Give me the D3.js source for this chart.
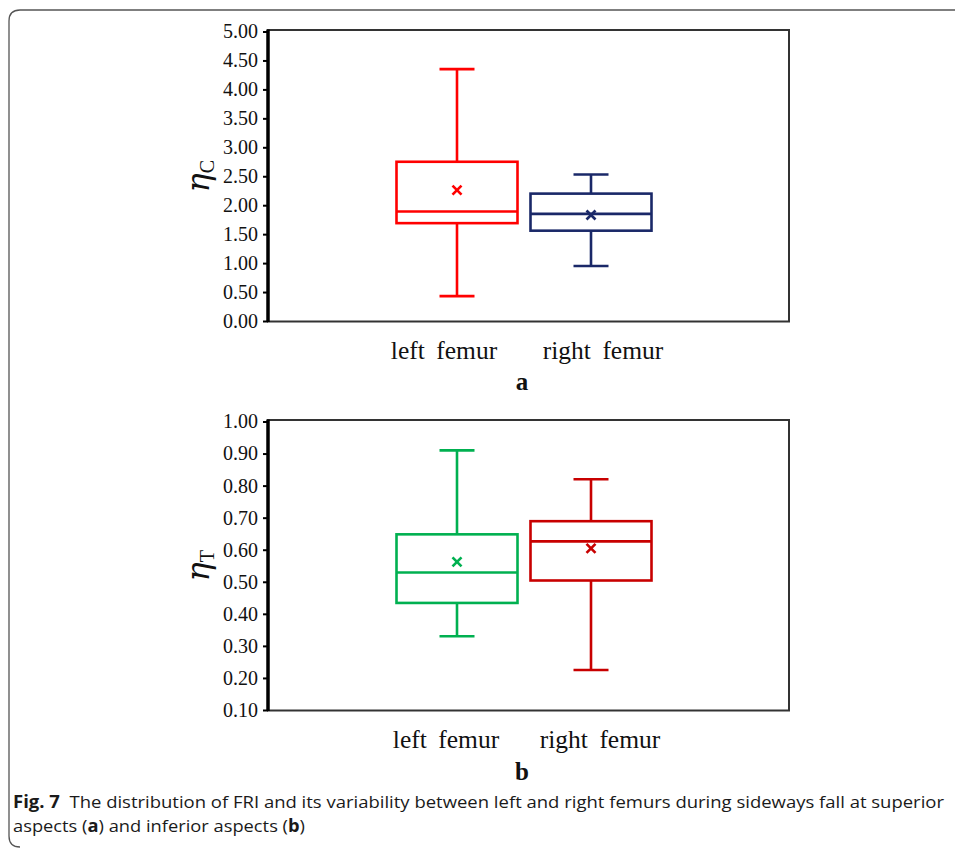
<!DOCTYPE html>
<html><head><meta charset="utf-8">
<script src="https://cdn.jsdelivr.net/npm/d3@7"></script>
<style>
html,body{margin:0;padding:0;background:#fff;}
svg{display:block;}
</style></head>
<body>
<script>
// ---- data ----
const categories = ["left femur", "right femur"];
// Panel a (eta_C)
const aMin    = [0.43, 0.95];
const aQ1     = [1.69, 1.56];
const aMedian = [1.89, 1.85];
const aQ3     = [2.75, 2.20];
const aMax    = [4.35, 2.53];
const aMean   = [2.26, 1.83];
const aTicks  = [0, 0.5, 1, 1.5, 2, 2.5, 3, 3.5, 4, 4.5, 5];
// Panel b (eta_T)
const bMin    = [0.33, 0.225];
const bQ1     = [0.434, 0.504];
const bMedian = [0.529, 0.626];
const bQ3     = [0.648, 0.689];
const bMax    = [0.91, 0.82];
const bMean   = [0.562, 0.604];
const bTicks  = [0.1, 0.2, 0.3, 0.4, 0.5, 0.6, 0.7, 0.8, 0.9, 1.0];

const aColors = ["#ff0000", "#1a2868"];
const bColors = ["#00b050", "#c80000"];

const W = 955, H = 848;
const svg = d3.select("body").append("svg").attr("width", W).attr("height", H);

// outer frame
svg.append("path")
  .attr("d", "M956,10 H20 Q9,10 9,21 V836 Q9,847 20,847")
  .attr("fill", "none").attr("stroke", "#555").attr("stroke-width", 1.3);

function panel(cfg) {
  const y = d3.scaleLinear().domain(cfg.domain).range(cfg.yRange);
  const x = d3.scalePoint().domain(categories).range([457, 591]);
  const xl = d3.scalePoint().domain(categories).range(cfg.labelRange);
  const left = 268, right = 789;
  const g = svg.append("g");
  // plot border
  g.append("rect")
    .attr("x", left).attr("y", y(cfg.domain[1]) - 1.5)
    .attr("width", right - left).attr("height", y(cfg.domain[0]) - y(cfg.domain[1]) + 2)
    .attr("fill", "none").attr("stroke", "#333").attr("stroke-width", 2);
  // left axis
  const ax = g.append("g").attr("transform", `translate(${left},0)`)
    .call(d3.axisLeft(y).tickValues(cfg.ticks).tickFormat(d3.format(".2f")).tickSize(5).tickPadding(5));
  ax.select(".domain").attr("stroke", "#000").attr("stroke-width", 3.5)
    .attr("d", `M0,${y(cfg.domain[0]) + 1}V${y(cfg.domain[1]) - 2}`);
  ax.selectAll(".tick line").attr("stroke", "#000").attr("stroke-width", 2);
  ax.selectAll(".tick text").attr("font-family", "Liberation Serif, Times New Roman, serif")
    .attr("font-size", 20).attr("fill", "#111");

  const bw = 121, cap = 35;
  categories.forEach((c, i) => {
    const cx = x(c), col = cfg.colors[i];
    const s = { stroke: col, "stroke-width": 2.6, fill: "none" };
    const line = (x1, y1, x2, y2) => {
      const l = g.append("line").attr("x1", x1).attr("y1", y1).attr("x2", x2).attr("y2", y2);
      Object.entries(s).forEach(([k, v]) => l.attr(k, v));
    };
    // whiskers
    line(cx, y(cfg.max[i]), cx, y(cfg.q3[i]));
    line(cx, y(cfg.q1[i]), cx, y(cfg.min[i]));
    line(cx - cap / 2, y(cfg.max[i]), cx + cap / 2, y(cfg.max[i]));
    line(cx - cap / 2, y(cfg.min[i]), cx + cap / 2, y(cfg.min[i]));
    // box
    g.append("rect").attr("x", cx - bw / 2).attr("y", y(cfg.q3[i]))
      .attr("width", bw).attr("height", y(cfg.q1[i]) - y(cfg.q3[i]))
      .attr("fill", "none").attr("stroke", col).attr("stroke-width", 2.6);
    line(cx - bw / 2, y(cfg.median[i]), cx + bw / 2, y(cfg.median[i]));
    // mean x
    const m = 4.5, my = y(cfg.mean[i]);
    line(cx - m, my - m, cx + m, my + m);
    line(cx - m, my + m, cx + m, my - m);
    // category label
    g.append("text").attr("x", xl(c)).attr("y", cfg.labelY)
      .attr("text-anchor", "middle")
      .attr("font-family", "Liberation Serif, Times New Roman, serif")
      .attr("font-size", 25.5).attr("fill", "#111")
      .text(c.replace(" ", "\u00a0\u2009"));
  });
  // panel letter
  g.append("text").attr("x", 522).attr("y", cfg.letterY).attr("text-anchor", "middle")
    .attr("font-family", "Liberation Serif, Times New Roman, serif")
    .attr("font-weight", "bold").attr("font-size", 25).attr("fill", "#111")
    .text(cfg.letter);
  // y label
  const yc = (y(cfg.domain[0]) + y(cfg.domain[1])) / 2;
  const t = g.append("text")
    .attr("transform", `translate(209,${yc}) rotate(-90)`)
    .attr("text-anchor", "middle")
    .attr("font-family", "DejaVu Serif, serif").attr("font-size", 32).attr("fill", "#111");
  t.append("tspan").attr("font-style", "italic").text("η");
  t.append("tspan").attr("font-size", 20).attr("dy", 5).attr("font-family", "Liberation Serif, serif").text(cfg.sub);
}

panel({
  domain: [0, 5], yRange: [321, 31.5], ticks: aTicks,
  min: aMin, q1: aQ1, median: aMedian, q3: aQ3, max: aMax, mean: aMean,
  colors: aColors, labelRange: [444, 603], labelY: 359, letter: "a", letterY: 390, sub: "C"
});
panel({
  domain: [0.1, 1.0], yRange: [710, 421.5], ticks: bTicks,
  min: bMin, q1: bQ1, median: bMedian, q3: bQ3, max: bMax, mean: bMean,
  colors: bColors, labelRange: [446, 600], labelY: 748, letter: "b", letterY: 780, sub: "T"
});

// caption
const cap = svg.append("text").attr("x", 13).attr("y", 808)
  .attr("font-family", "Open Sans, Noto Sans, sans-serif").attr("font-size", 17).attr("fill", "#1a1a1a")
  .attr("textLength", 931).attr("lengthAdjust", "spacingAndGlyphs");
cap.append("tspan").attr("font-weight", "bold").text("Fig. 7");
cap.append("tspan").text("\u00a0 The distribution of FRI and its variability between left and right femurs during sideways fall at superior");
const cap2 = svg.append("text").attr("x", 13).attr("y", 832)
  .attr("font-family", "Open Sans, Noto Sans, sans-serif").attr("font-size", 17).attr("fill", "#1a1a1a")
  .attr("textLength", 292).attr("lengthAdjust", "spacingAndGlyphs");
cap2.append("tspan").text("aspects (");
cap2.append("tspan").attr("font-weight", "bold").text("a");
cap2.append("tspan").text(") and inferior aspects (");
cap2.append("tspan").attr("font-weight", "bold").text("b");
cap2.append("tspan").text(")");
</script>
</body></html>
